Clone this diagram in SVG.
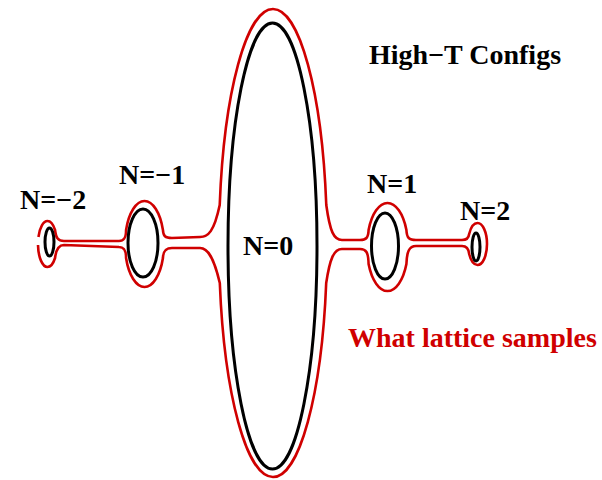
<svg xmlns="http://www.w3.org/2000/svg" width="602" height="480" viewBox="0 0 602 480">
<style>
.blk{fill:none;stroke:#000;stroke-width:3}
.red{fill:none;stroke:#d00000;stroke-width:2.6;stroke-linejoin:round}
.lbl{font-family:"Liberation Serif","Times New Roman",serif;font-weight:bold;font-size:28px;fill:#000}
.rtxt{fill:#d00000}
</style>
<rect width="602" height="480" fill="#fff"/>
<g id="connectors">
<path class="red" d="M38.45,237 A9.5,23 0 0 1 47.5,221 A9.5,23 0 0 1 55.04,230 C56,238 58,241 64,241 L119,241 C124,241 126.06,238 126.06,230 A19.5,43 0 0 1 144.5,201 A19.5,43 0 0 1 162.94,230 C163.2,236 165,238 172,238 L200,237 C208,237 214,232 219.72,205 A54,234 0 0 1 273,9 A54,234 0 0 1 326.28,205 C330,232 334,240 342,240 L360,240 C366,240 368.4,238 368.59,230 A20.5,44 0 0 1 387.5,203 A20.5,44 0 0 1 406.41,230 C406.8,238 409,240 416,240 L462,240 C467,240 468.7,238 469.15,234 A9.5,21 0 0 1 477.5,223 A9.5,21 0 0 1 487,244 A9.5,21 0 0 1 477.5,265 A9.5,21 0 0 1 469.15,254 C468.7,249 467,246 462,246 L416,246 C409,246 406.8,252 406.41,264 A20.5,44 0 0 1 387.5,291 A20.5,44 0 0 1 368.59,264 C368.4,252 366,249 360,249 L342,249 C334,249 330,258 326.2,283 A54,234 0 0 1 273,477 A54,234 0 0 1 219.8,283 C214,258 208,248 200,248 L172,248 C165,248 163.2,252 162.94,258 A19.5,43 0 0 1 144.5,287 A19.5,43 0 0 1 126.06,258 C126.06,250 124,247 119,247 L64,245 C58,245 56,250 55.04,258 A9.5,23 0 0 1 47.5,267 A9.5,23 0 0 1 38.01,245"/>
</g>
<g id="node-n-2">
<ellipse class="blk" cx="49.5" cy="242" rx="4.5" ry="14"/>
<text class="lbl" x="20" y="209">N=−2</text>
</g>
<g id="node-n-1">
<ellipse class="blk" cx="143" cy="243" rx="15" ry="34"/>
<text class="lbl" x="119" y="184">N=−1</text>
</g>
<g id="node-n0">
<ellipse class="blk" cx="272.5" cy="246" rx="44.5" ry="223"/>
<text class="lbl" x="243" y="255">N=0</text>
</g>
<g id="node-n1">
<ellipse class="blk" cx="385" cy="246" rx="13.5" ry="33"/>
<text class="lbl" x="367" y="193">N=1</text>
</g>
<g id="node-n2">
<ellipse class="blk" cx="476" cy="247" rx="4" ry="14"/>
<text class="lbl" x="460" y="220">N=2</text>
</g>
<g id="labels">
<text class="lbl" x="369" y="64">High−T Configs</text>
<text class="lbl rtxt" x="348" y="347">What lattice samples</text>
</g>
</svg>
